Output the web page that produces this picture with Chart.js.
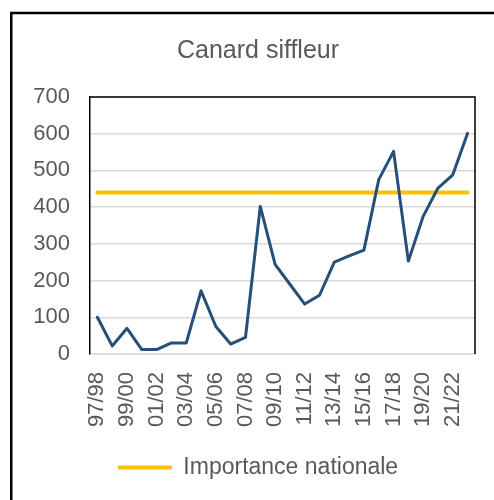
<!DOCTYPE html>
<html>
<head>
<meta charset="utf-8">
<script src="https://cdn.jsdelivr.net/npm/chart.js@4/dist/chart.umd.min.js"></script>
<style>
  html, body { margin: 0; padding: 0; background: #fff; }
  #c { display: block; }
</style>
</head>
<body>
<canvas id="c" width="494" height="500"></canvas>
<script>
const seasons = ['97/98','98/99','99/00','00/01','01/02','02/03','03/04','04/05','05/06','06/07','07/08','08/09','09/10','10/11','11/12','12/13','13/14','14/15','15/16','16/17','17/18','18/19','19/20','20/21','21/22','22/23'];
const counts = [100,22,70,12,12,30,30,172,75,27,45,402,244,190,136,160,250,267,283,475,552,253,375,452,488,601];
const nationalThreshold = 440;
const titleText = 'Canard siffleur';
const thresholdLabel = 'Importance nationale';
const yMin = 0, yMax = 700, yStep = 100;

const FONT = "'Liberation Sans', Arial, sans-serif";
const TEXT = '#595959';

const framePlugin = {
  id: 'frame',
  beforeDraw(chart) {
    const ctx = chart.ctx;
    ctx.save();
    ctx.strokeStyle = '#000';
    ctx.lineWidth = 2.5;
    ctx.beginPath();
    ctx.moveTo(11.25, 500);
    ctx.lineTo(11.25, 13);
    ctx.lineTo(494, 13);
    ctx.stroke();
    ctx.restore();
  },
  beforeDatasetsDraw(chart) {
    const a = chart.chartArea;
    const ctx = chart.ctx;
    ctx.save();
    ctx.strokeStyle = '#000';
    ctx.lineWidth = 1.5;
    ctx.beginPath();
    ctx.moveTo(a.left, a.top);
    ctx.lineTo(a.right, a.top);
    ctx.lineTo(a.right, a.bottom);
    ctx.stroke();
    ctx.restore();
  }
};

new Chart(document.getElementById('c'), {
  type: 'line',
  data: {
    labels: seasons,
    datasets: [
      {
        label: titleText,
        data: counts,
        borderColor: '#264f7a',
        borderWidth: 3,
        pointRadius: 0,
        tension: 0,
        borderJoinStyle: 'round',
        borderCapStyle: 'round',
        yAxisID: 'y'
      },
      {
        label: thresholdLabel,
        data: [{x: seasons[0], y: nationalThreshold}, {x: seasons[seasons.length - 1], y: nationalThreshold}],
        borderColor: '#ffc000',
        backgroundColor: '#ffc000',
        borderWidth: 4,
        pointRadius: 0,
        borderCapStyle: 'round',
        yAxisID: 'y'
      }
    ]
  },
  options: {
    responsive: false,
    animation: false,
    devicePixelRatio: 1,
    layout: { padding: { left: 22, right: 0, top: 0, bottom: 11 } },
    plugins: {
      title: {
        display: true,
        text: titleText,
        color: TEXT,
        font: { family: FONT, size: 25, weight: 'normal' },
        padding: { top: 36, bottom: 31 }
      },
      legend: {
        position: 'bottom',
        labels: {
          filter: (item) => item.text === thresholdLabel,
          color: TEXT,
          font: { family: FONT, size: 23 },
          usePointStyle: true,
          pointStyle: 'line',
          pointStyleWidth: 54,
          padding: 10
        }
      },
      tooltip: { enabled: false }
    },
    scales: {
      x: {
        type: 'category',
        offset: true,
        grid: { display: false, drawTicks: false },
        border: { display: true, color: '#d9d9d9', width: 1.5 },
        ticks: {
          autoSkip: false,
          minRotation: 90,
          maxRotation: 90,
          padding: 18,
          color: TEXT,
          font: { family: FONT, size: 22 },
          callback: function(value, index) { return index % 2 === 0 ? this.getLabelForValue(value) : ''; }
        },
        afterFit(s) { s.height = 92; s.paddingLeft = 0; s.paddingRight = 0; }
      },
      y: {
        min: yMin,
        max: yMax,
        ticks: { stepSize: yStep, padding: 20, color: TEXT, font: { family: FONT, size: 22 } },
        grid: { color: '#d9d9d9', lineWidth: 1.5, drawTicks: false },
        border: { display: true, color: '#000', width: 1.5 },
        afterFit(s) { s.width = 68; }
      },
      yR: {
        position: 'right',
        display: true,
        grid: { display: false, drawTicks: false },
        border: { display: false },
        ticks: { display: false },
        afterFit(s) { s.width = 19; s.paddingTop = 0; s.paddingBottom = 0; }
      }
    }
  },
  plugins: [framePlugin]
});
</script>
</body>
</html>
